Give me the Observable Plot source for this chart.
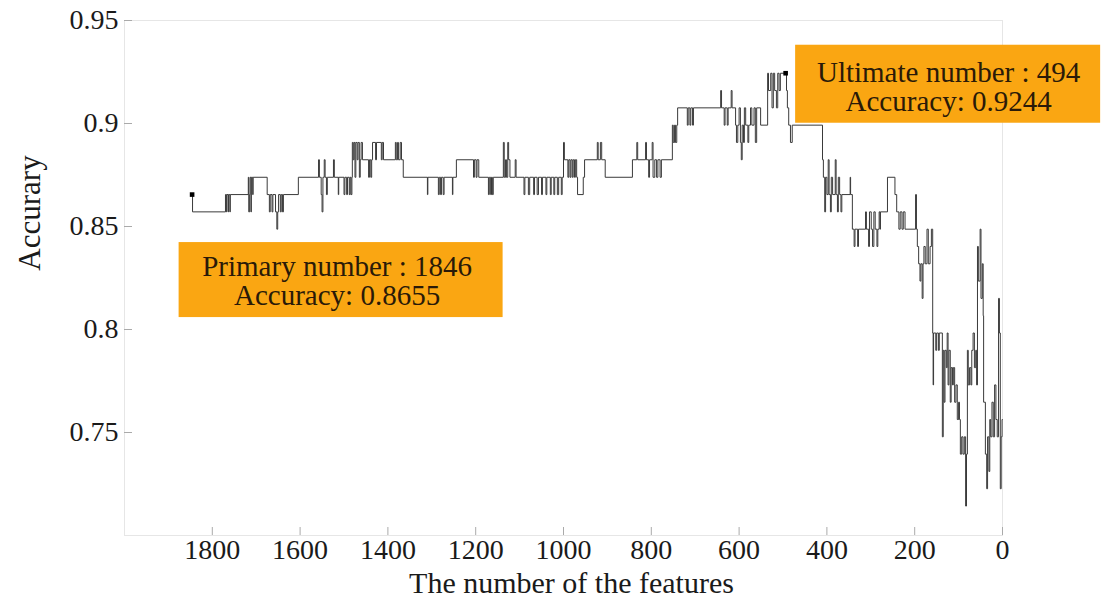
<!DOCTYPE html>
<html><head><meta charset="utf-8">
<script src="https://cdn.jsdelivr.net/npm/d3@7"></script>
<script src="https://cdn.jsdelivr.net/npm/@observablehq/plot@0.6"></script>
<style>html,body{margin:0;padding:0;background:#fff;} svg{display:block}</style>
</head><body><div id="chart"></div>
<script>
const features = [
 1846,1845,1770,1768,1767,1764,1763,1760,1759,1718,
 1717,1715,1714,1712,1711,1708,1707,1675,1670,1668,
 1664,1662,1656,1653,1651,1649,1645,1643,1640,1638,
 1604,1558,1556,1552,1550,1548,1545,1543,1540,1538,
 1524,1522,1513,1512,1500,1498,1494,1492,1488,1486,
 1484,1482,1481,1479,1477,1475,1473,1470,1468,1465,
 1463,1461,1458,1444,1442,1439,1437,1435,1428,1426,
 1415,1413,1410,1383,1381,1378,1376,1372,1369,1365,
 1310,1309,1285,1283,1280,1278,1274,1272,1253,1252,
 1244,1205,1203,1199,1197,1193,1171,1169,1166,1164,
 1162,1160,1137,1135,1132,1130,1127,1125,1122,1110,
 1108,1090,1088,1080,1077,1068,1066,1060,1057,1050,
 1048,1040,1038,1030,1028,1022,1020,1014,1011,1005,
 1003,1000,998,990,988,985,983,980,978,975,
 973,970,968,955,952,923,921,916,913,905,
 843,833,831,813,811,806,804,798,796,792,
 788,785,780,777,752,750,747,745,742,740,
 718,716,712,710,706,704,642,640,634,632,
 627,625,618,616,608,606,603,600,597,595,
 593,590,588,585,580,578,574,571,566,563,
 560,551,535,533,528,525,522,519,515,512,
 509,506,494,492,490,487,483,479,410,408,
 405,403,400,397,395,392,390,387,381,379,
 376,374,371,368,366,347,346,342,338,336,
 330,328,312,310,305,303,299,296,293,290,
 286,284,281,279,278,262,245,241,236,233,
 229,226,222,198,196,194,191,188,186,183,
 181,179,176,172,169,165,162,159,158,157,
 152,150,146,144,137,135,133,131,128,126,
 124,122,119,117,114,112,109,106,103,100,
 98,96,93,90,87,84,82,80,78,75,
 72,70,67,64,61,59,57,55,51,49,
 46,44,43,39,36,34,31,29,27,24,
 21,18,15,12,9,7,5,3,1,0
];
const accuracy = [
 .8655,.8571,.8655,.8571,.8655,.8571,.8655,.8571,.8655,.8739,
 .8571,.8655,.8739,.8571,.8739,.8655,.8739,.8655,.8571,.8655,
 .8571,.8655,.8571,.8487,.8571,.8655,.8571,.8655,.8571,.8655,
 .8739,.8824,.8739,.8655,.8571,.8739,.8824,.8739,.8655,.8739,
 .8824,.8739,.8655,.8739,.8655,.8739,.8655,.8739,.8655,.8739,
 .8655,.8739,.8908,.8824,.8908,.8739,.8908,.8824,.8908,.8739,
 .8824,.8908,.8824,.8739,.8824,.8739,.8824,.8908,.8824,.8908,
 .8824,.8908,.8824,.8908,.8824,.8908,.8824,.8908,.8824,.8739,
 .8655,.8739,.8655,.8739,.8655,.8739,.8655,.8739,.8655,.8739,
 .8824,.8739,.8824,.8739,.8824,.8739,.8655,.8739,.8655,.8739,
 .8655,.8739,.8908,.8739,.8824,.8739,.8908,.8824,.8739,.8824,
 .8739,.8655,.8739,.8655,.8739,.8655,.8739,.8655,.8739,.8655,
 .8739,.8655,.8739,.8655,.8739,.8655,.8739,.8655,.8739,.8655,
 .8739,.8908,.8824,.8739,.8824,.8739,.8824,.8739,.8824,.8739,
 .8824,.8739,.8655,.8739,.8824,.8908,.8824,.8908,.8824,.8739,
 .8824,.8908,.8824,.8908,.8824,.8739,.8824,.8908,.8739,.8824,
 .8739,.8824,.8739,.8824,.8992,.8908,.8992,.8908,.8992,.9076,
 .8992,.9076,.8992,.9076,.8992,.9076,.9160,.9076,.8992,.9076,
 .8992,.9076,.9160,.9076,.8992,.8908,.8992,.9076,.8908,.8824,
 .8992,.8908,.9076,.8992,.8908,.8992,.9076,.8992,.9076,.8908,
 .9076,.8992,.9244,.9160,.9244,.9076,.9244,.9160,.9076,.9244,
 .9160,.9244,.9244,.9160,.9076,.8992,.8908,.8992,.8824,.8739,
 .8571,.8739,.8655,.8824,.8655,.8571,.8739,.8655,.8824,.8655,
 .8571,.8739,.8655,.8571,.8655,.8739,.8655,.8487,.8403,.8487,
 .8403,.8487,.8571,.8487,.8403,.8571,.8487,.8403,.8571,.8487,
 .8403,.8487,.8571,.8487,.8571,.8739,.8655,.8571,.8487,.8571,
 .8487,.8571,.8487,.8655,.8487,.8403,.8319,.8235,.8319,.8151,
 .8319,.8403,.8319,.8487,.8319,.8403,.8487,.7983,.7731,.7983,
 .7899,.7983,.7899,.7983,.7479,.7899,.7647,.7899,.7815,.7983,
 .7731,.7899,.7647,.7815,.7731,.7815,.7647,.7731,.7563,.7647,
 .7563,.7395,.7479,.7395,.7479,.7143,.7395,.7899,.7731,.7815,
 .7731,.7899,.7983,.7815,.7899,.7731,.8403,.8235,.8487,.8151,
 .8319,.8067,.7647,.7395,.7227,.7479,.7311,.7563,.7479,.7647,
 .7479,.7731,.7563,.7479,.8151,.7983,.7227,.7479,.7563,.7563
];
const xTicks = [1800, 1600, 1400, 1200, 1000, 800, 600, 400, 200, 0];
const yTicks = [0.75, 0.8, 0.85, 0.9, 0.95];
const yTickLabels = ["0.75", "0.8", "0.85", "0.9", "0.95"];
const markFeatures = [1846, 494];
const markAccuracy = [0.8655, 0.9244];
const markLabels = ["Primary number : 1846\nAccuracy: 0.8655", "Ultimate number : 494\nAccuracy: 0.9244"];
const xLabel = "The number of the features";
const yLabel = "Accurary";

const idx = features.map((_, i) => i);
const notes = markFeatures.map((f, i) => ({f, a: markAccuracy[i], label: markLabels[i]}));
const orange = "#FAA612";
const ink = "#2a1a08";

const chart = Plot.plot({
  width: 1102, height: 599,
  marginLeft: 124, marginRight: 100, marginTop: 20, marginBottom: 64,
  style: {fontFamily: '"Liberation Serif","Times New Roman",serif', fontSize: "28px", color: "#1a1a1a", background: "#fff"},
  x: {domain: [2000, 0]},
  y: {domain: [0.7, 0.95]},
  marks: [
    Plot.frame({stroke: "#e6e6e6"}),
    Plot.axisX({ticks: xTicks, tickSize: 8, dy: -8, text: null, stroke: "#aaa", label: null}),
    Plot.axisX({ticks: xTicks, tickSize: 0, tickPadding: 4, tickFormat: d => String(d), label: null}),
    Plot.axisY({ticks: yTicks, tickSize: 8, dx: 8, text: null, stroke: "#aaa", label: null}),
    Plot.axisY({ticks: yTicks, tickSize: 0, tickPadding: 6, tickFormat: d => yTickLabels[yTicks.indexOf(d)], label: null}),
    Plot.text([yLabel], {frameAnchor: "left", textAnchor: "middle", lineAnchor: "middle", dx: -94, dy: -65, rotate: -90, fontSize: 31}),
    Plot.text([xLabel], {frameAnchor: "bottom", textAnchor: "middle", lineAnchor: "middle", dx: 8, dy: 48, fontSize: 30}),
    Plot.rect([notes[0]], {x1: "f", x2: "f", y1: "a", y2: "a", fill: orange, insetLeft: -13, insetRight: -311, insetTop: 48, insetBottom: -123}),
    Plot.rect([notes[1]], {x1: "f", x2: "f", y1: "a", y2: "a", fill: orange, insetLeft: 10, insetRight: -315, insetTop: -28, insetBottom: -50}),
    Plot.line(idx, {x: i => features[i], y: i => accuracy[i], curve: "step-after", stroke: "#3a3a3a", strokeWidth: 1}),
    Plot.dot(notes, {x: "f", y: "a", symbol: "square", r: 2.6, fill: "#000"}),
    Plot.text([notes[0]], {x: "f", y: "a", text: "label", dx: 145, dy: 87, fontSize: 29, lineHeight: 1, fill: ink}),
    Plot.text([notes[1]], {x: "f", y: "a", text: "label", dx: 163, dy: 14, fontSize: 29, lineHeight: 1, fill: ink})
  ]
});
document.getElementById("chart").appendChild(chart);
</script>
</body></html>
